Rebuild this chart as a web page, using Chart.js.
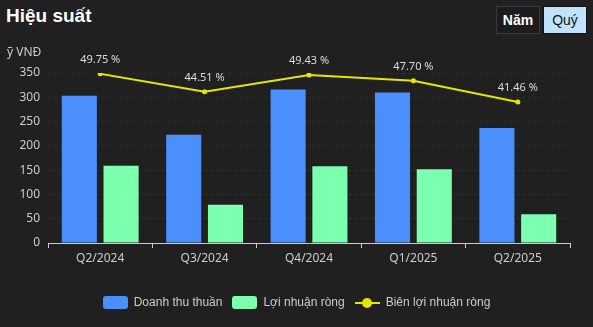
<!DOCTYPE html>
<html>
<head>
<meta charset="utf-8">
<script src="https://cdn.jsdelivr.net/npm/chart.js@4"></script>
<style>
  html, body { margin: 0; padding: 0; background: #202020; }
  body { width: 593px; height: 327px; position: relative; overflow: hidden; font-family: "Liberation Sans", Arial, sans-serif; }
  .title { position: absolute; left: 6px; top: 5px; color: #fff; font: bold 19px "Liberation Sans", Arial, sans-serif; }
  .tabs { position: absolute; left: 496px; top: 6px; display: flex; gap: 3px; }
  .tabs div { width: 44px; height: 28px; box-sizing: border-box; display: flex; align-items: center; justify-content: center; font-size: 14px; }
  .tabs .off { border: 1px solid #3a3a3a; background: #1c1c1c; color: #fff; font-weight: bold; }
  .tabs .on { background: #bfe3fb; border: 1px solid #111; color: #111; }
  .wrap { position: absolute; left: 0; top: 0; width: 593px; height: 327px; }
  #legend { position: absolute; left: 0; right: 0; top: 295px; display: flex; justify-content: center; color: #ccc; font-size: 12px; }
  #legend .item { display: flex; align-items: center; margin: 0 5px; }
  #legend .box { width: 25px; height: 13px; border-radius: 3px; margin-right: 6px; }
  #legend .line { width: 25px; height: 13px; margin-right: 6px; position: relative; }
  #legend .line::before { content: ""; position: absolute; left: 0; right: 0; top: 6px; height: 2px; background: var(--c); }
  #legend .line::after { content: ""; position: absolute; left: 7px; top: 2px; width: 10px; height: 10px; border-radius: 50%; background: var(--c); }
</style>
</head>
<body>
<div class="title">Hiệu suất</div>
<div class="tabs"><div class="off">Năm</div><div class="on">Quý</div></div>
<div class="wrap"><canvas id="chart"></canvas></div>
<div id="legend"></div>
<script>
const quarters = ['Q2/2024', 'Q3/2024', 'Q4/2024', 'Q1/2025', 'Q2/2025']
const doanhThu = [303, 223, 316, 310, 237]
const loiNhuan = [159, 79, 158, 152, 59]
const bienLoiNhuan = [49.75, 44.51, 49.43, 47.70, 41.46]

const BLUE = '#4b8ffd'
const GREEN = '#7dffb0'
const YELLOW = '#e6e600'

// nhan % tren moi diem cua duong bien loi nhuan
const percentLabels = {
    id: 'percentLabels',
    afterDatasetsDraw(chart) {
        const ctx = chart.ctx
        const meta = chart.getDatasetMeta(2)
        ctx.save()
        ctx.font = '11px "Noto Sans", sans-serif'
        ctx.fillStyle = '#dddddd'
        ctx.textAlign = 'center'
        ctx.textBaseline = 'middle'
        meta.data.forEach((pt, i) => {
            ctx.fillText(bienLoiNhuan[i].toFixed(2) + ' %', pt.x, pt.y - 14)
        })
        // don vi truc y
        ctx.textAlign = 'left'
        ctx.font = '12px "Noto Sans", sans-serif'
        ctx.fillStyle = '#cccccc'
        ctx.fillText('ỹ VNĐ', 7, 53)
        ctx.restore()
    }
}

const ctx = document.getElementById('chart')
const chart = new Chart(ctx, {
    type: 'bar',
    data: {
        labels: quarters,
        datasets: [
            {
                label: 'Doanh thu thuần',
                data: doanhThu,
                backgroundColor: BLUE,
                categoryPercentage: 0.8,
                barPercentage: 0.84,
                yAxisID: 'y',
                order: 1
            },
            {
                label: 'Lợi nhuận ròng',
                data: loiNhuan,
                backgroundColor: GREEN,
                categoryPercentage: 0.8,
                barPercentage: 0.84,
                yAxisID: 'y',
                order: 1
            },
            {
                type: 'line',
                label: 'Biên lợi nhuận ròng',
                data: bienLoiNhuan,
                borderColor: YELLOW,
                backgroundColor: YELLOW,
                borderWidth: 2,
                pointRadius: 2.5,
                pointBackgroundColor: YELLOW,
                pointBorderWidth: 0,
                yAxisID: 'y1',
                order: 0
            }
        ]
    },
    options: {
        responsive: true,
        maintainAspectRatio: false,
        animation: false,
        layout: { padding: { left: 0, top: 73, right: 23, bottom: 54 } },
        plugins: {
            legend: { display: false },
            tooltip: { enabled: false }
        },
        scales: {
            x: {
                grid: { display: true, drawOnChartArea: false, color: '#cccccc', tickLength: 5 },
                border: { display: true, color: '#cccccc' },
                ticks: { color: '#cccccc', font: { family: 'Noto Sans', size: 12 }, padding: 3 },
                afterFit(scale) { scale.height = 30 }
            },
            y: {
                min: 0,
                max: 350,
                ticks: { stepSize: 50, color: '#cccccc', font: { family: 'Noto Sans', size: 12 }, padding: 8 },
                grid: { color: 'rgba(255,255,255,0.07)', drawTicks: false },
                border: { display: false, dash: [3, 3] },
                afterFit(scale) { scale.width = 48 }
            },
            y1: {
                display: false,
                min: 0,
                max: 50
            }
        }
    },
    plugins: [percentLabels]
})

// chu giai ben duoi
const legend = document.getElementById('legend')
chart.data.datasets.forEach((ds) => {
    const item = document.createElement('div')
    item.className = 'item'
    const mark = document.createElement('span')
    if (ds.type === 'line') {
        mark.className = 'line'
        mark.style.setProperty('--c', ds.borderColor)
    } else {
        mark.className = 'box'
        mark.style.background = ds.backgroundColor
    }
    item.appendChild(mark)
    item.appendChild(document.createTextNode(ds.label))
    legend.appendChild(item)
})
</script>
</body>
</html>
